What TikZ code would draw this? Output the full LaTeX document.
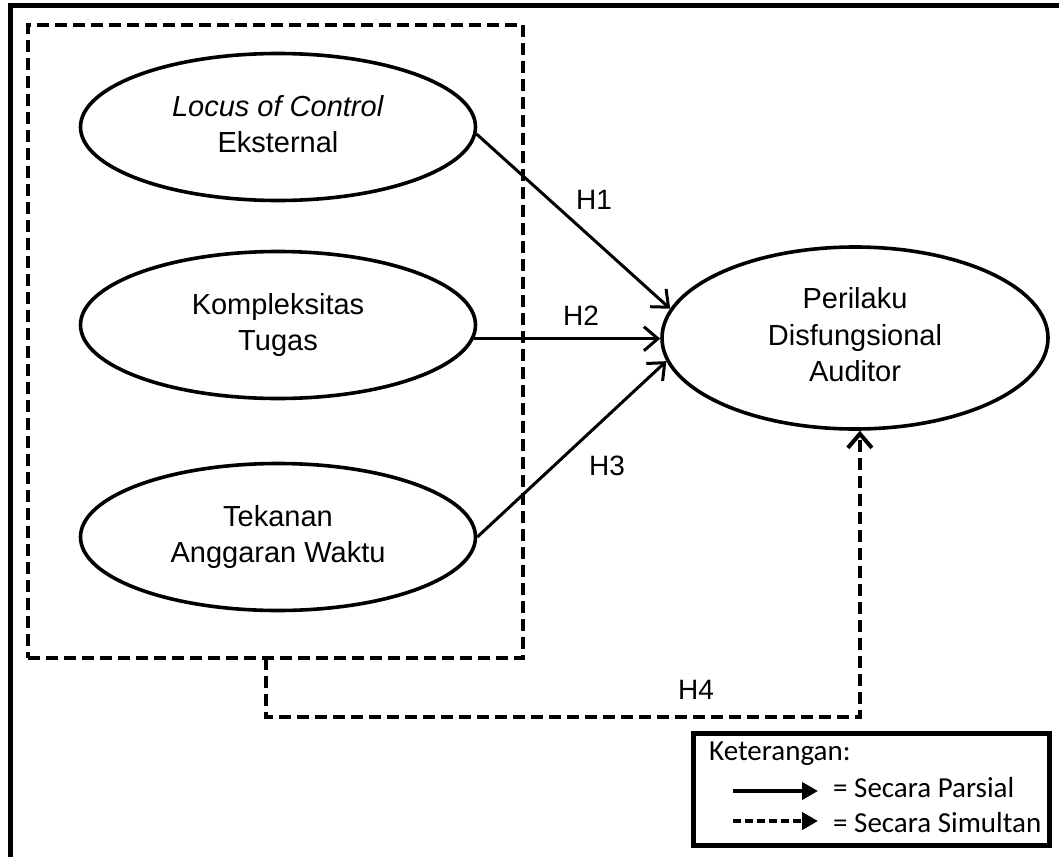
\documentclass[tikz,border=0pt]{standalone}
\usepackage{fontspec}
\setmainfont{Liberation Sans}
\newfontfamily\legfont{Carlito}
\usetikzlibrary{arrows.meta,shapes.geometric}
\newcommand{\liftlines}[2]{\raisebox{#1}{\begin{tabular}{@{}c@{}}#2\end{tabular}}}
\begin{document}
\begin{tikzpicture}[x=1pt,y=-1pt,
  var/.style={ellipse,draw,line width=3.6pt,inner sep=0pt,minimum width=395pt,minimum height=147pt,font=\fontsize{29}{36.5}\selectfont},
  barb/.style={-{Straight Barb[length=14pt,width=24pt]}},
  conn/.style={line width=3pt,barb},
  dashln/.style={line width=4pt,dash pattern=on 12pt off 6pt},
  hlab/.style={font=\fontsize{28}{32}\selectfont,inner sep=0pt},
  legtxt/.style={font=\legfont\fontsize{29}{34}\selectfont,anchor=base west,inner sep=0pt},
  legarrow/.style={line width=4pt,-{Triangle[length=16pt,width=17pt]}}]
\useasboundingbox (0,0) rectangle (1059,856);
\clip (0,0) rectangle (1059,856);
% outer frame (cut by the page on the right and bottom)
\draw[line width=5pt] (10,5.5) rectangle (1090,890);
% dashed group box
\node[draw,dashln,minimum width=495pt,minimum height=633pt,inner sep=0pt] (grp) at (275.5,341.5) {};
% variables
\node[var] (e1) at (278,127) {\liftlines{0pt}{\textit{Locus of Control}\\Eksternal}};
\node[var] (e2) at (278,325) {\liftlines{0pt}{Kompleksitas\\Tugas}};
\node[var] (e3) at (278,537) {\liftlines{0pt}{Tekanan\\Anggaran Waktu}};
\node[var,minimum width=386pt,minimum height=182pt] (pda) at (855,338) {\liftlines{6pt}{Perilaku\\Disfungsional\\Auditor}};
% partial hypotheses
\draw[conn] (e1.-2) -- (pda.171);
\draw[conn] (e2.-4) -- (e2.-4 -| pda.west);
\draw[conn] (e3.east) -- (pda.187);
% simultaneous hypothesis
\coordinate (h4s) at (266,658);
\draw[dashln,barb] (h4s) -- ++(0,59) -| (pda.-87);
% labels
\node[hlab] (h1) at (594,200) {H1};
\node[hlab] (h2) at (581,316) {H2};
\node[hlab] (h3) at (607,466) {H3};
\node[hlab] (h4) at (696,690) {H4};
% legend
\node[draw,line width=5pt,minimum width=356pt,minimum height=112pt,inner sep=0pt] (leg) at (871,789.5) {};
\node[legtxt] (k) at (709,760) {Keterangan:};
\node[legtxt] (p) at (833,797) {= Secara Parsial};
\node[legtxt] (s) at (833,832) {= Secara Simultan};
\coordinate (pa) at (733,791);
\coordinate (pb) at (818,791);
\coordinate (sa) at (733,821);
\coordinate (sb) at (818,821);
\draw[legarrow] (pa) -- (pb);
\draw[legarrow,dash pattern=on 8pt off 4pt] (sa) -- (sb);
\end{tikzpicture}
\end{document}
